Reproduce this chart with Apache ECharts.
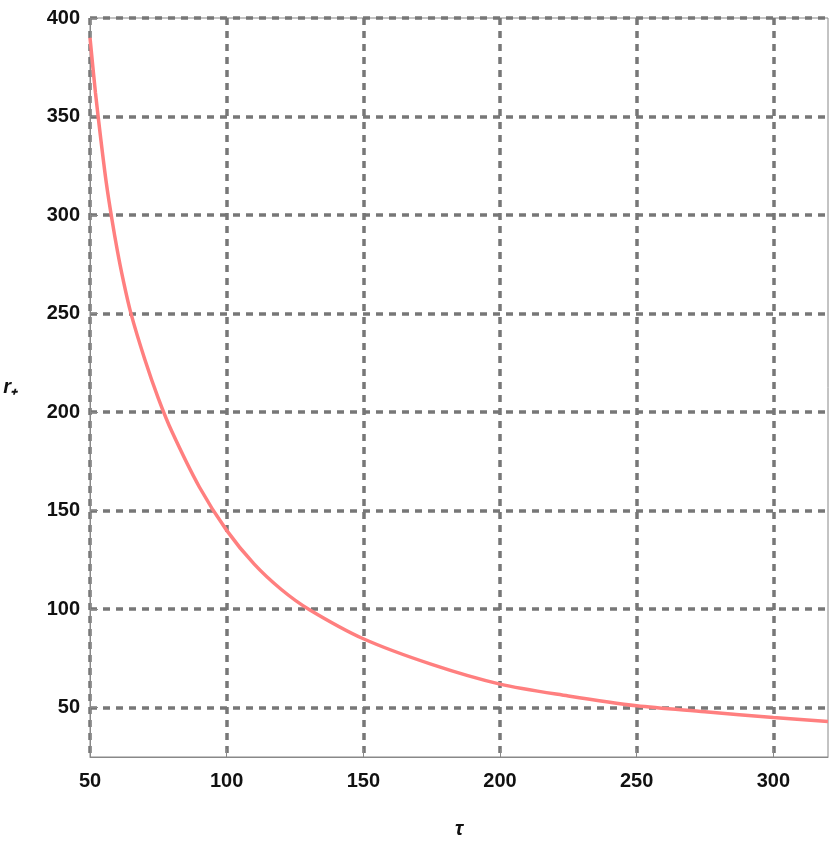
<!DOCTYPE html>
<html><head><meta charset="utf-8">
<script src="https://cdn.jsdelivr.net/npm/echarts@6/dist/echarts.min.js"></script>
<style>html,body{margin:0;padding:0;background:#fff}#c{width:830px;height:847px}</style>
</head><body><div id="c"></div>
<script>
const tau = [50,52,54,56,58,60,62,65,70,75,80,90,100,110,120,130,150,175,200,225,250,275,300,320];
const rPlus = [390,362,338,316,298,282,268,250,227,207,190,162,140,123,110,100,85,72,62,56,51,48,45,43];
const yTicks = [50,100,150,200,250,300,350,400];
const xTicks = [50,100,150,200,250,300];
const chart = echarts.init(document.getElementById('c'));
const lab = {color:'#111',fontWeight:'bold',fontSize:20,fontFamily:'Liberation Sans'};
const grid = {show:true,lineStyle:{color:'#777',type:[7,6],width:3.5}};
chart.setOption({
  animation:false,
  grid:{left:90,right:2,top:18,bottom:90,show:true,borderColor:'#888',borderWidth:1},
  xAxis:{type:'value',min:50,max:320,
    name:'τ',nameLocation:'middle',nameGap:62,nameTextStyle:{fontSize:20,fontWeight:'bold',fontStyle:'italic',color:'#111'},
    axisLine:{show:true,lineStyle:{color:'#888'}},
    axisTick:{inside:true,length:8,customValues:xTicks,lineStyle:{color:'#888'}},
    axisLabel:Object.assign({margin:14,customValues:xTicks},lab),
    splitLine:grid},
  yAxis:{type:'value',min:25,max:400,
    name:'r₊',nameLocation:'middle',nameGap:72,nameRotate:0,nameTextStyle:{fontSize:20,fontWeight:'bold',fontStyle:'italic',color:'#111'},
    axisLine:{show:true,lineStyle:{color:'#888'}},
    axisTick:{inside:true,length:8,customValues:yTicks,lineStyle:{color:'#888'}},
    axisLabel:Object.assign({margin:10,customValues:yTicks},lab),
    splitLine:grid},
  series:[{type:'line',data:tau.map((t,i)=>[t,rPlus[i]]),smooth:0.3,showSymbol:false,
    lineStyle:{color:'#ff7f7f',width:3.5}}]
});
</script></body></html>
